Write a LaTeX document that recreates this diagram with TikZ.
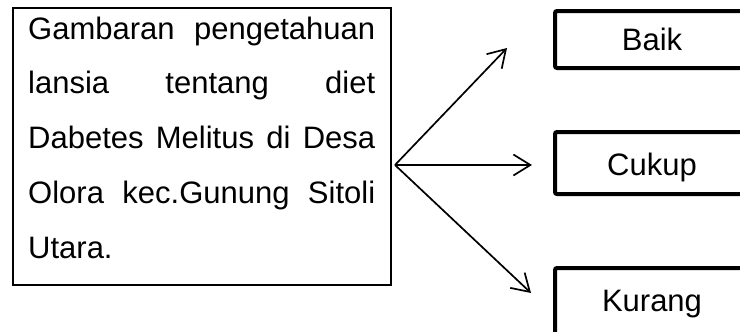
\documentclass[tikz,border=0pt]{standalone}
\usepackage{fontspec}
\setmainfont{Liberation Sans}
\usetikzlibrary{arrows.meta}
\begin{document}
\begin{tikzpicture}[x=1pt,y=-1pt,
  txt/.style={inner sep=0pt, anchor=base west, font=\fontsize{31}{36}\selectfont},
  lbl/.style={inner sep=0pt, anchor=base, font=\fontsize{31}{36}\selectfont},
  srcbox/.style={draw, line width=1.7pt},
  outbox/.style={draw, line width=4pt, rounded corners=2pt},
  arr/.style={line width=1.7pt, -{Straight Barb[length=17pt,width=21pt,line width=1.7pt]}}]
\useasboundingbox (0,0) rectangle (740,332);
\clip (0,0) rectangle (740,332);
\fill[white] (0,0) rectangle (740,332);
% source box
\draw[srcbox] (13,8) rectangle (391,285);
\node[txt] (t1) at (28,39) {\makebox[347pt][s]{Gambaran pengetahuan}};
\node[txt] (t2) at (28,93.75) {\makebox[347pt][s]{lansia tentang diet}};
\node[txt] (t3) at (28,148.5) {\makebox[347pt][s]{Dabetes Melitus di Desa}};
\node[txt] (t4) at (28,203.25) {\makebox[347pt][s]{Olora kec.Gunung Sitoli}};
\node[txt] (t5) at (28,258) {Utara.};
% outcome boxes
\draw[outbox] (555,11) rectangle (770,68);
\draw[outbox] (555,132) rectangle (770,194);
\draw[outbox] (555,268) rectangle (770,350);
\node[lbl] (baik) at (652,50) {Baik};
\node[lbl] (cukup) at (652,175) {Cukup};
\node[lbl] (kurang) at (652,311) {Kurang};
% arrows
\coordinate (o) at (395,165);
\coordinate (tb) at (507,48);
\coordinate (tc) at (532,165);
\coordinate (tk) at (531,293);
\draw[arr] (o) -- (tb);
\draw[arr] (o) -- (tc);
\draw[arr] (o) -- (tk);
\end{tikzpicture}
\end{document}
